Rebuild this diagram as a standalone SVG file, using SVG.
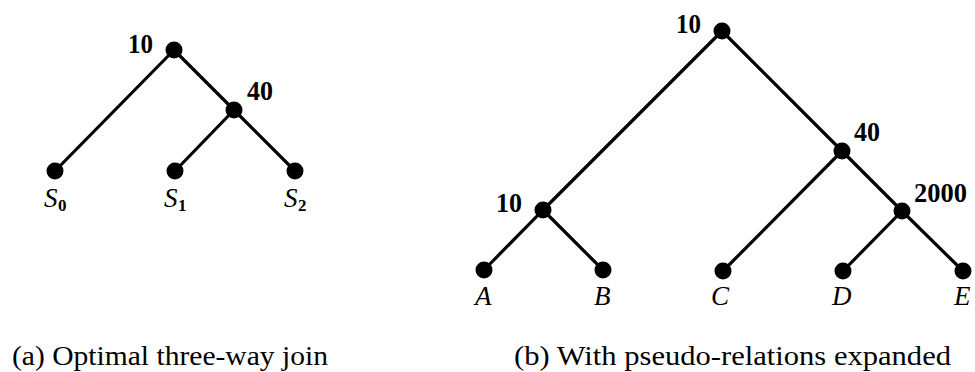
<svg xmlns="http://www.w3.org/2000/svg" width="975" height="372" viewBox="0 0 975 372">
<style>
.e{stroke:#000;stroke-width:3.2;fill:none;stroke-linecap:round}
.d{fill:#000}
text{font-family:'Liberation Serif','Times New Roman',Times,serif;fill:#000}
.n{font-size:27px;font-weight:bold}
.l{font-size:27px;font-style:italic}
.s{font-size:17px;font-weight:bold}
.c{font-size:27px}
</style>
<rect width="975" height="372" fill="#fff"/>
<g id="connectors">
<line class="e" x1="174" y1="50" x2="55" y2="171"/>
<line class="e" x1="174" y1="50" x2="234" y2="110"/>
<line class="e" x1="234" y1="110" x2="175" y2="171"/>
<line class="e" x1="234" y1="110" x2="295" y2="171"/>
<line class="e" x1="722" y1="31" x2="543" y2="210"/>
<line class="e" x1="722" y1="31" x2="842" y2="151"/>
<line class="e" x1="543" y1="210" x2="484" y2="270"/>
<line class="e" x1="543" y1="210" x2="603" y2="270"/>
<line class="e" x1="842" y1="151" x2="723" y2="271"/>
<line class="e" x1="842" y1="151" x2="902" y2="211"/>
<line class="e" x1="902" y1="211" x2="843" y2="271"/>
<line class="e" x1="902" y1="211" x2="963" y2="271"/>
</g>
<g id="a-root"><circle class="d" cx="174" cy="50" r="8.5"/><text class="n" x="128" y="53" textLength="25" lengthAdjust="spacingAndGlyphs">10</text></g>
<g id="a-join40"><circle class="d" cx="234" cy="110" r="8.5"/><text class="n" x="247" y="100" textLength="26" lengthAdjust="spacingAndGlyphs">40</text></g>
<g id="a-S0"><circle class="d" cx="55" cy="171" r="8.5"/><text class="l" x="44" y="207">S</text><text class="s" x="58" y="211">0</text></g>
<g id="a-S1"><circle class="d" cx="175" cy="171" r="8.5"/><text class="l" x="164" y="207">S</text><text class="s" x="178" y="211">1</text></g>
<g id="a-S2"><circle class="d" cx="295" cy="171" r="8.5"/><text class="l" x="284" y="207">S</text><text class="s" x="298" y="211">2</text></g>
<g id="b-root"><circle class="d" cx="722" cy="31" r="8.5"/><text class="n" x="676" y="33" textLength="25" lengthAdjust="spacingAndGlyphs">10</text></g>
<g id="b-join40"><circle class="d" cx="842" cy="151" r="8.5"/><text class="n" x="854" y="141" textLength="26" lengthAdjust="spacingAndGlyphs">40</text></g>
<g id="b-join2000"><circle class="d" cx="902" cy="211" r="8.5"/><text class="n" x="914" y="202" textLength="53" lengthAdjust="spacingAndGlyphs">2000</text></g>
<g id="b-join10"><circle class="d" cx="543" cy="210" r="8.5"/><text class="n" x="496" y="212" textLength="26" lengthAdjust="spacingAndGlyphs">10</text></g>
<g id="b-A"><circle class="d" cx="484" cy="270" r="8.5"/><text class="l" x="475" y="305">A</text></g>
<g id="b-B"><circle class="d" cx="603" cy="270" r="8.5"/><text class="l" x="594" y="305">B</text></g>
<g id="b-C"><circle class="d" cx="723" cy="271" r="8.5"/><text class="l" x="711" y="305">C</text></g>
<g id="b-D"><circle class="d" cx="843" cy="271" r="8.5"/><text class="l" x="832" y="305">D</text></g>
<g id="b-E"><circle class="d" cx="963" cy="271" r="8.5"/><text class="l" x="954" y="305">E</text></g>
<text class="c" x="12" y="365" textLength="316" lengthAdjust="spacingAndGlyphs">(a) Optimal three-way join</text>
<text class="c" x="514" y="365" textLength="437" lengthAdjust="spacingAndGlyphs">(b) With pseudo-relations expanded</text>
</svg>
